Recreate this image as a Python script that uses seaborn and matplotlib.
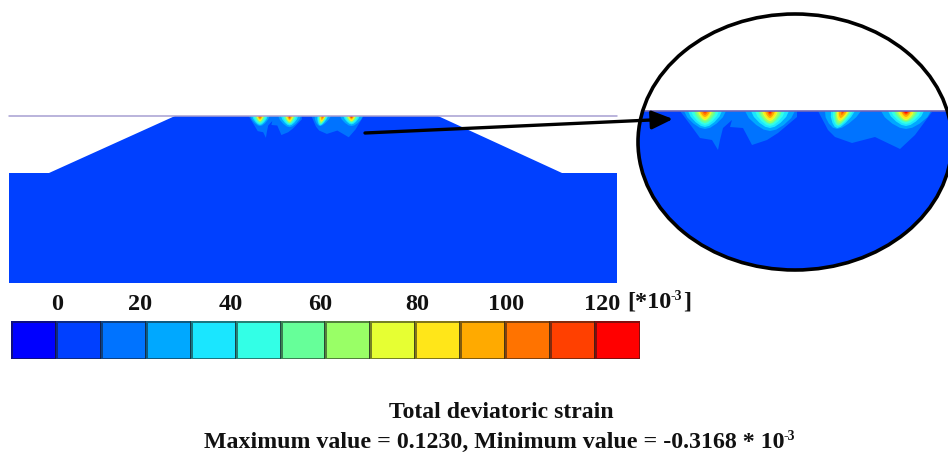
import numpy as np
import seaborn as sns
import matplotlib.pyplot as plt
from matplotlib.colors import ListedColormap
from matplotlib.patches import Ellipse

W, H = 948, 455

LEVEL_COLORS = ["#0000ff", "#0040ff", "#0073ff", "#00a8ff", "#1ae6ff", "#33ffe6", "#66ff99",
                "#99ff66", "#e6ff33", "#ffe619", "#ffaa00", "#ff7300", "#ff4000", "#ff0000"]
BAR_VALUES = [list(range(14))]
TICK_LABELS = ["0", "20", "40", "60", "80", "100", "120"]
TICK_CELLS = [1.02, 2.87, 4.88, 6.88, 9.04, 11.02, 13.16]

# section outline, picture pixels
SECTION_X = [9, 49, 175, 438, 562, 617, 617, 9]
SECTION_Y = [173, 173, 116, 116, 173, 173, 283, 283]

# zoomed view pixels: outer strain contour for the two pairs of footprints
OUTER_A_X = [680, 692, 700, 712, 718, 720, 723, 732, 730, 743, 752, 767, 778, 797, 797]
OUTER_A_Y = [111, 127, 138, 140, 150, 140, 128, 120, 127, 128, 145, 140, 133, 117, 111]
OUTER_B_X = [818, 828, 835, 852, 875, 898, 900, 915, 932]
OUTER_B_Y = [111, 130, 137, 143, 137, 148, 149, 135, 112]

# footprint centres in the zoomed view and half width / depth of each level
SPOT_X = [705, 770, 843, 906]
SPOT_LEAN = [0, 0, -6, 0]
SPOT_LEVELS = [3, 4, 5, 6, 7, 8, 9, 10, 11, 12, 13]
SPOT_HALF = [
    [21, 17, 14, 11, 9, 7, 6, 5, 3, 2, 0],
    [25, 19, 15, 12, 10, 8, 7, 5, 3, 2, 1],
    [18, 12, 10, 8, 7, 6, 5, 4, 2, 1, 0],
    [25, 18, 15, 12, 10, 8, 7, 5, 4, 3, 2],
]
SPOT_DEPTH = [
    [18, 16, 14, 12, 10, 9, 8, 6, 4, 2, 0],
    [20, 17, 15, 13, 12, 10, 9, 7, 5, 3, 2],
    [18, 17, 15, 14, 12, 10, 9, 7, 4, 2, 0],
    [18, 15, 13, 11, 10, 9, 8, 6, 4, 3, 2],
]
BLOB_X = [-1, -0.85, -0.55, -0.25, 0, 0.25, 0.55, 0.85, 1]
BLOB_Y = [0, 0.35, 0.7, 0.93, 1, 0.93, 0.7, 0.35, 0]

TITLE = "Total deviatoric strain"
SUBTITLE = "Maximum value = 0.1230, Minimum value = -0.3168 * 10"

sns.set_theme(style="white")
plt.rcParams["font.family"] = "Liberation Serif"
plt.rcParams["font.weight"] = "bold"

fig = plt.figure(figsize=(W / 100, H / 100), dpi=100)
ax = fig.add_axes([0, 0, 1, 1])
ax.set_xlim(0, W)
ax.set_ylim(H, 0)
ax.axis("off")


def to_main(x, y):
    # zoomed view -> section position
    return 260 + (np.asarray(x) - 705) * 0.455, 116 + (np.asarray(y) - 111) * 0.56


def draw_strain(ax, convert=None, clip=None):
    shapes = [(OUTER_A_X, OUTER_A_Y, 2), (OUTER_B_X, OUTER_B_Y, 2)]
    for i, cx in enumerate(SPOT_X):
        for lev, hw, dp in zip(SPOT_LEVELS, SPOT_HALF[i], SPOT_DEPTH[i]):
            if hw == 0:
                continue
            fy = np.array(BLOB_Y)
            xs = cx + np.array(BLOB_X) * hw + SPOT_LEAN[i] * fy * dp / 18
            ys = 111 + fy * dp
            shapes.append((xs, ys, lev))
    for xs, ys, lev in shapes:
        if convert is not None:
            xs, ys = convert(xs, ys)
        patch = ax.fill(xs, ys, color=LEVEL_COLORS[lev], lw=0, zorder=3)[0]
        if clip is not None:
            patch.set_clip_path(clip)


# main section
ax.fill(SECTION_X, SECTION_Y, color=LEVEL_COLORS[1], lw=0, zorder=2)
draw_strain(ax, convert=to_main)
ax.plot([9, 617], [116, 116], color="#a79fd2", lw=1.1, zorder=4)

# zoomed circle
outline = Ellipse((795, 142), 314, 256, fc="white", ec="none", zorder=1)
ax.add_patch(outline)
lower = ax.fill([630, 955, 955, 630], [111, 111, 280, 280], color=LEVEL_COLORS[1], lw=0, zorder=2)[0]
lower.set_clip_path(outline)
draw_strain(ax, clip=outline)
ax.plot([642, 948], [111, 111], color="#6f66b8", lw=1.2, zorder=4)
ax.add_patch(Ellipse((795, 142), 314, 256, fc="none", ec="black", lw=2.6, zorder=5, clip_on=False))

ax.annotate("", xy=(673, 119), xytext=(365, 133), zorder=6,
            arrowprops=dict(arrowstyle="-|>,head_length=0.8,head_width=0.35", color="black", lw=2.4,
                            mutation_scale=16, shrinkA=0, shrinkB=0))

# legend bar
bar_ax = fig.add_axes([11 / W, 1 - 359 / H, 629 / W, 38 / H])
sns.heatmap(BAR_VALUES, ax=bar_ax, cmap=ListedColormap(LEVEL_COLORS), cbar=False,
            linewidths=1, linecolor=(0.1, 0.1, 0.1, 0.55), xticklabels=False, yticklabels=False)
bar_ax.xaxis.tick_top()
bar_ax.set_xticks(TICK_CELLS, TICK_LABELS, fontsize=17.5, fontweight="bold", color="#111111")
bar_ax.tick_params(axis="x", length=0, pad=4.5)

ax.text(627, 302, "[*10", fontsize=17.5, va="center", ha="left", color="#111111", fontweight="bold")
ax.text(671, 297, "-3", fontsize=10, va="center", ha="left", color="#111111", fontweight="bold")
ax.text(683, 302, "]", fontsize=17.5, va="center", ha="left", color="#111111", fontweight="bold")

ax.text(501, 412, TITLE, fontsize=17.1, ha="center", va="center", color="#111111", fontweight="bold")
ax.text(204, 442, SUBTITLE, fontsize=17.2, ha="left", va="center", color="#111111", fontweight="bold")
ax.text(784, 437, "-3", fontsize=10, ha="left", va="center", color="#111111", fontweight="bold")

fig.savefig("out.png", dpi=100)
